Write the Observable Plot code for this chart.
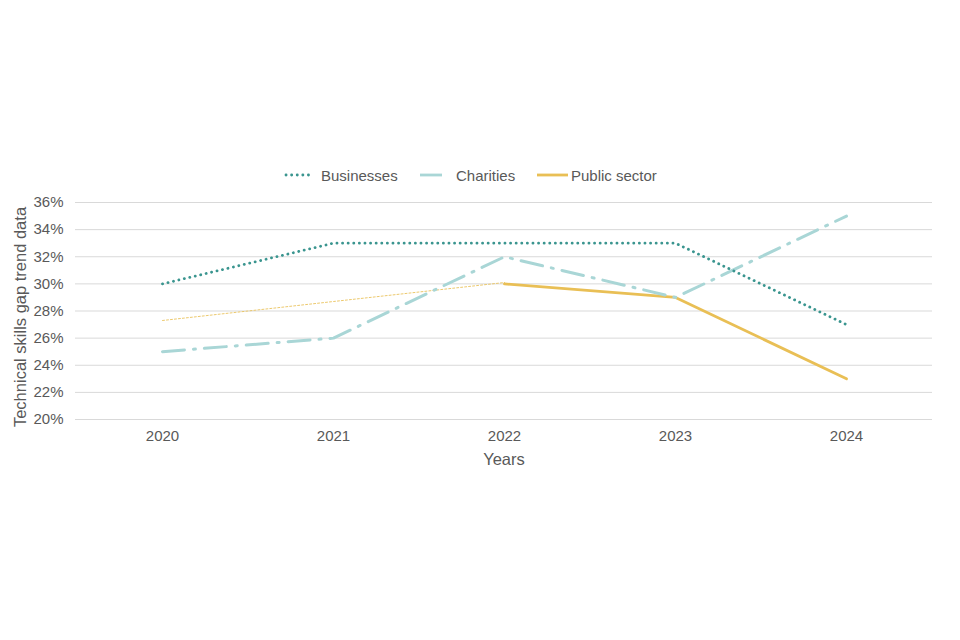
<!DOCTYPE html>
<html>
<head>
<meta charset="utf-8">
<script src="https://cdn.jsdelivr.net/npm/d3@7"></script>
<script src="https://cdn.jsdelivr.net/npm/@observablehq/plot@0.6"></script>
<style>
  html, body { margin: 0; padding: 0; background: #fff; }
  #wrap { position: relative; width: 960px; height: 640px; font-family: "Liberation Sans", Arial, sans-serif; }
  #legend { position: absolute; top: 165px; left: 0; width: 960px; height: 20px; font-size: 15px; color: #595959; }
  #legend .item { position: absolute; top: 0; height: 20px; display: flex; align-items: center; white-space: nowrap; }
  #chart { position: absolute; top: 0; left: 0; }
</style>
</head>
<body>
<div id="wrap">
  <div id="chart"></div>
  <div id="legend"></div>
</div>
<script>
const years = ["2020", "2021", "2022", "2023", "2024"];
const businesses = [30, 33, 33, 33, 27];
const charities = [25, 26, 32, 29, 35];
const publicYears = ["2022", "2023", "2024"];
const publicSector = [30, 29, 23];
const trendYears = ["2020", "2021", "2022"];
const publicTrend = [27.3, 28.7, 30.1];
const yTicks = [20, 22, 24, 26, 28, 30, 32, 34, 36];

const seriesNames = ["Businesses", "Charities", "Public sector"];
const colors = { "Businesses": "#3a958f", "Charities": "#a9d6d6", "Public sector": "#e9bf55" };
const dashes = { "Businesses": "0.1,5.5", "Charities": "22,9,2,9", "Public sector": null };

const bizData = years.map((y, i) => ({ year: y, value: businesses[i] }));
const chaData = years.map((y, i) => ({ year: y, value: charities[i] }));
const pubData = publicYears.map((y, i) => ({ year: y, value: publicSector[i] }));
const trendData = trendYears.map((y, i) => ({ year: y, value: publicTrend[i] }));

const narrow = "'Liberation Sans Narrow', 'Liberation Sans', Arial, sans-serif";

const chart = Plot.plot({
  width: 960,
  height: 640,
  marginTop: 202,
  marginBottom: 221,
  marginLeft: 75,
  marginRight: 28,
  style: { fontFamily: "Liberation Sans, Arial, sans-serif", fontSize: "14px", color: "#595959", background: "transparent" },
  x: { type: "point", domain: years, padding: 0.5, label: null },
  y: { domain: [20, 36], ticks: yTicks, label: null },
  marks: [
    Plot.gridY(yTicks, { stroke: "#d9d9d9", strokeOpacity: 1, strokeWidth: 1 }),
    Plot.axisY(yTicks, { tickSize: 0, tickPadding: 12, tickFormat: d => d + "%", fontSize: 15, fill: "#595959", label: null }),
    Plot.axisX({ tickSize: 0, tickPadding: 11, fontSize: 15, fill: "#595959", fontFamily: narrow, label: null }),
    Plot.text(["Technical skills gap trend data"], { frameAnchor: "left", dx: -55, rotate: -90, fontSize: 16.5, fill: "#595959", textAnchor: "middle", dy: 6 }),
    Plot.text(["Years"], { frameAnchor: "bottom", dy: 40, fontSize: 16.5, fill: "#595959", fontFamily: narrow, lineAnchor: "middle" }),
    Plot.lineY(trendData, { x: "year", y: "value", stroke: colors["Public sector"], strokeWidth: 1, strokeDasharray: "2,2", strokeOpacity: 0.85 }),
    Plot.lineY(pubData, { x: "year", y: "value", stroke: colors["Public sector"], strokeWidth: 2.8 }),
    Plot.lineY(chaData, { x: "year", y: "value", stroke: colors["Charities"], strokeWidth: 3, strokeDasharray: dashes["Charities"] }),
    Plot.lineY(bizData, { x: "year", y: "value", stroke: colors["Businesses"], strokeWidth: 2.8, strokeDasharray: dashes["Businesses"], strokeLinecap: "round" })
  ]
});
document.getElementById("chart").appendChild(chart);

// legend
const legend = document.getElementById("legend");
const legendLayout = {
  "Businesses": { left: 284, w: 30, gap: 7 },
  "Charities": { left: 420, w: 22, gap: 14 },
  "Public sector": { left: 537, w: 31, gap: 3 }
};
seriesNames.forEach(name => {
  const s = legendLayout[name];
  const item = document.createElement("div");
  item.className = "item";
  item.style.left = s.left + "px";
  const dash = name === "Businesses" ? `stroke-dasharray="0.1,5.5" stroke-linecap="round"` : "";
  const x1 = name === "Businesses" ? 2 : 0;
  item.innerHTML = `<svg width="${s.w}" height="10" style="margin-right:${s.gap}px"><line x1="${x1}" x2="${s.w}" y1="5" y2="5" stroke="${colors[name]}" stroke-width="2.8" ${dash}/></svg><span>${name}</span>`;
  legend.appendChild(item);
});
</script>
</body>
</html>
